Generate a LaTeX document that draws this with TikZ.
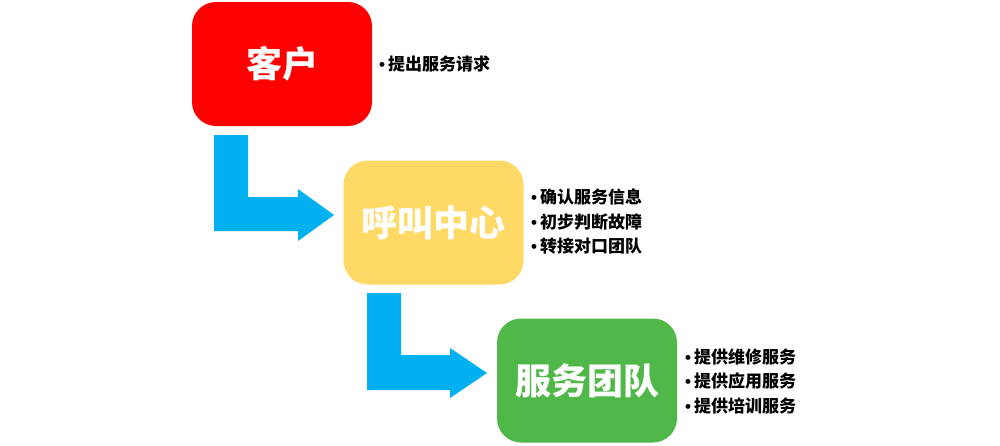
\documentclass[tikz,border=0pt]{standalone}
\usepackage{fontspec}
\setmainfont{Noto Sans CJK SC}
\newfontfamily\latinf{Liberation Sans}
\newcommand{\blt}{{\latinf\bfseries •}\hspace{3pt}}
\definecolor{cred}{HTML}{FF0000}
\definecolor{cyellow}{HTML}{FFD966}
\definecolor{cgreen}{HTML}{50B848}
\definecolor{cblue}{HTML}{00B0F0}
\begin{document}
\begin{tikzpicture}[x=1pt,y=-1pt,
  box/.style={rounded corners=24pt, minimum width=180pt, minimum height=124pt, inner sep=0pt,
    text=white, font=\fontsize{36}{40}\selectfont\bfseries},
  bullets/.style={anchor=west, align=left, inner sep=0pt, text=black,
    font=\fontsize{17}{24.5}\selectfont\bfseries},
  flow/.style={fill=cblue, draw=none}]
\useasboundingbox (0,0) rectangle (1000,445);
\node[box, fill=cred] (kh) at (282,64) {客户};
\node[box, fill=cyellow] (hj) at (433.5,222.5) {呼叫中心};
\node[box, fill=cgreen] (fw) at (587,380.5) {服务团队};
\node[bullets] (b1) at (379,64) {\blt 提出服务请求};
\node[bullets] (b2) at (531,222) {\blt 确认服务信息\\\blt 初步判断故障\\\blt 转接对口团队};
\node[bullets] (b3) at (685,381) {\blt 提供维修服务\\\blt 提供应用服务\\\blt 提供培训服务};
\fill[flow] (214,135) -- (248,135) -- (248,197) -- (298,197) -- (298,189) -- (334,215)
  -- (298,241) -- (298,231) -- (214,231) -- cycle;
\fill[flow] (367,293) -- (401,293) -- (401,355) -- (450,355) -- (450,348) -- (487,373)
  -- (450,398) -- (450,390) -- (367,390) -- cycle;
\end{tikzpicture}
\end{document}
